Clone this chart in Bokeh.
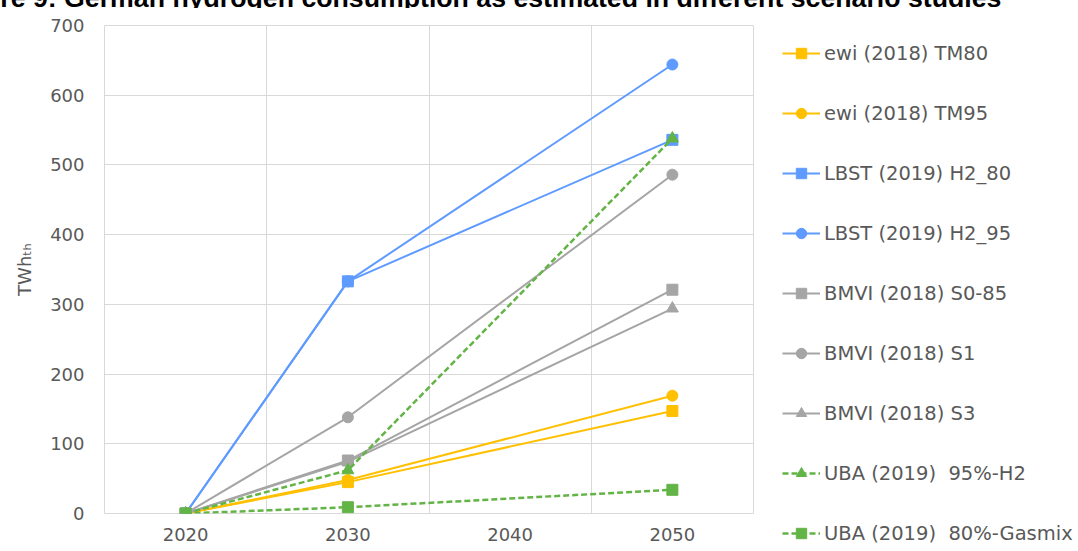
from bokeh.plotting import figure
from bokeh.layouts import column, row
from bokeh.models import FactorRange, Range1d, FixedTicker, Legend, LegendItem, Div
from bokeh.embed import file_html
from bokeh.resources import INLINE

# ---- data ----
categories = ["2020", "2030", "2040", "2050"]
data_years = ["2020", "2030", "2050"]
ewi_tm80 = [0, 45, 147]
ewi_tm95 = [0, 48, 169]
lbst_h2_80 = [0, 333, 536]
lbst_h2_95 = [0, 333, 644]
bmvi_s0_85 = [0, 76, 321]
bmvi_s1 = [0, 138, 486]
bmvi_s3 = [0, 74, 294]
uba_95_h2 = [0, 62, 538]
uba_80_gasmix = [0, 9, 34]
y_ticks = [0, 100, 200, 300, 400, 500, 600, 700]
series_names = [
    "ewi (2018) TM80",
    "ewi (2018) TM95",
    "LBST (2019) H2_80",
    "LBST (2019) H2_95",
    "BMVI (2018) S0-85",
    "BMVI (2018) S1",
    "BMVI (2018) S3",
    "UBA (2019)  95%-H2",
    "UBA (2019)  80%-Gasmix",
]
title_text = "Figure 9: German hydrogen consumption as estimated in different scenario studies"
y_label = "TWh\u209c\u2095"

ORANGE = "#FFC000"
BLUE = "#5F9BFF"
GRAY = "#A5A5A5"
GREEN = "#63B446"
series = [
    (ewi_tm80, ORANGE, "square", "solid"),
    (ewi_tm95, ORANGE, "circle", "solid"),
    (lbst_h2_80, BLUE, "square", "solid"),
    (lbst_h2_95, BLUE, "circle", "solid"),
    (bmvi_s0_85, GRAY, "square", "solid"),
    (bmvi_s1, GRAY, "circle", "solid"),
    (bmvi_s3, GRAY, "triangle", "solid"),
    (uba_95_h2, GREEN, "triangle", "6 3"),
    (uba_80_gasmix, GREEN, "square", "6 3"),
]
marker_sizes = {"square": 11, "circle": 11, "triangle": 12}

# clipped title strip at the very top
title_div = Div(
    text=(
        '<div style="position:relative; left:-56px; top:-17px; white-space:nowrap; '
        "font-family:'Liberation Sans', Arial, sans-serif; font-weight:bold; "
        'font-size:26.7px; line-height:30px; color:#000000;">'
        + title_text + "</div>"
    ),
    width=1078, height=8, margin=0,
    styles={"overflow": "hidden"},
)

# ---- main chart ----
p = figure(
    x_range=FactorRange(factors=categories, range_padding=0),
    y_range=Range1d(0, 700),
    width=754, height=543,
    output_backend="svg", toolbar_location=None,
    min_border_left=104, min_border_right=1,
    min_border_top=17, min_border_bottom=38,
)
p.background_fill_color = "white"
p.border_fill_color = "white"
p.outline_line_color = "#D9D9D9"
p.outline_line_width = 1

p.ygrid.ticker = FixedTicker(ticks=y_ticks)
p.ygrid.grid_line_color = "#D9D9D9"
p.xgrid.ticker = FixedTicker(ticks=[1, 2, 3])
p.xgrid.grid_line_color = "#D9D9D9"

p.yaxis.ticker = FixedTicker(ticks=y_ticks)
for ax in (p.xaxis[0], p.yaxis[0]):
    ax.axis_line_color = None
    ax.major_tick_line_color = None
    ax.minor_tick_line_color = None
    ax.major_tick_out = 0
    ax.major_tick_in = 0
    ax.major_label_text_font = "DejaVu Sans"
    ax.major_label_text_font_size = "18px"
    ax.major_label_text_color = "#595959"
p.yaxis.major_label_standoff = 20
p.xaxis.major_label_standoff = 14
p.yaxis.axis_label = y_label
p.yaxis.axis_label_text_font = "DejaVu Sans"
p.yaxis.axis_label_text_font_size = "18px"
p.yaxis.axis_label_text_font_style = "normal"
p.yaxis.axis_label_text_color = "#595959"
p.yaxis.axis_label_standoff = 12

for vals, color, marker, dash in series:
    lw = 2.5 if dash != "solid" else 2
    p.line(data_years, vals, line_color=color, line_width=lw, line_dash=dash)
    p.scatter(data_years, vals, marker=marker, size=marker_sizes[marker],
              fill_color=color, line_color=color)

# ---- legend panel: same series, drawn out of view, only the legend shows ----
lg = figure(
    x_range=FactorRange(factors=categories, range_padding=0),
    y_range=Range1d(-2, -1),
    width=324, height=543,
    output_backend="svg", toolbar_location=None,
    x_axis_type=None, y_axis_type=None,
    min_border_left=0, min_border_right=0,
    min_border_top=0, min_border_bottom=0,
)
for fig in (p, lg):
    try:
        fig.frame_align = False
    except AttributeError:
        pass
lg.outline_line_color = None
lg.xgrid.visible = False
lg.ygrid.visible = False
lg.background_fill_color = "white"
lg.border_fill_color = "white"

items = []
for (vals, color, marker, dash), name in zip(series, series_names):
    lw = 2.5 if dash != "solid" else 2
    r1 = lg.line(data_years, vals, line_color=color, line_width=lw, line_dash=dash)
    r2 = lg.scatter(data_years, vals, marker=marker, size=marker_sizes[marker],
                    fill_color=color, line_color=color)
    items.append(LegendItem(label=name, renderers=[r1, r2]))

legend = Legend(
    items=items,
    location=(28, 5),
    border_line_color=None,
    background_fill_alpha=0,
    padding=0, margin=0,
    spacing=34,
    glyph_width=38, glyph_height=26,
    label_height=26,
    label_standoff=4,
    label_text_font="DejaVu Sans",
    label_text_font_size="19.5px",
    label_text_color="#595959",
)
lg.add_layout(legend, "center")

layout = column(title_div, row(p, lg, spacing=0), spacing=0)

open("out.html", "w").write(file_html(layout, INLINE))
